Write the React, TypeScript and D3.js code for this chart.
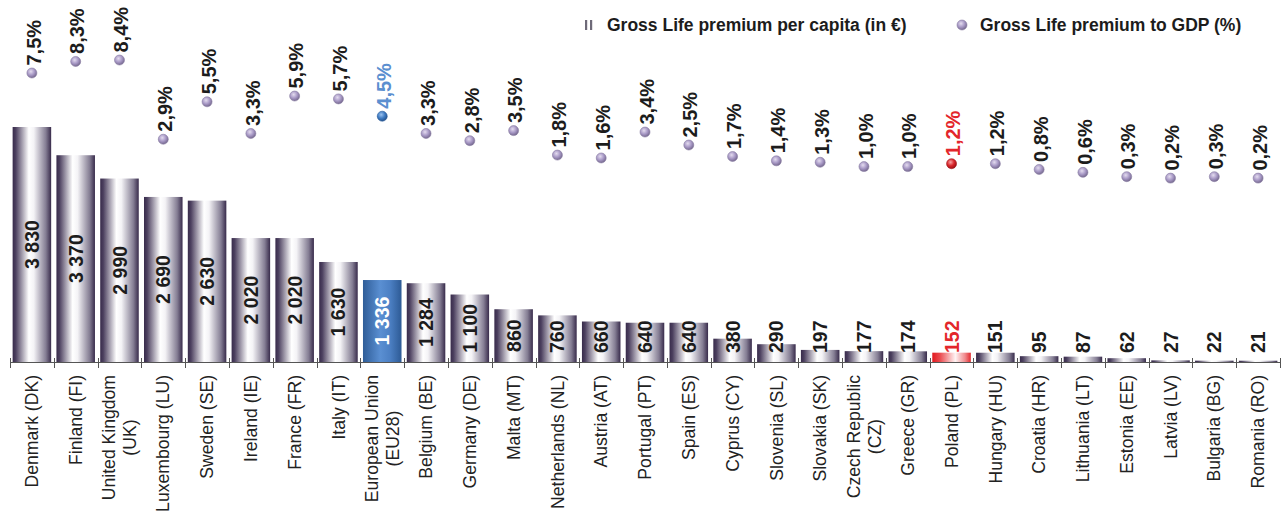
import React, { useRef, useEffect } from 'react';
import * as d3 from 'd3';

const categories = [
  'Denmark (DK)', 'Finland (FI)', 'United Kingdom\n(UK)', 'Luxembourg (LU)', 'Sweden (SE)',
  'Ireland (IE)', 'France (FR)', 'Italy (IT)', 'European Union\n(EU28)', 'Belgium (BE)',
  'Germany (DE)', 'Malta (MT)', 'Netherlands (NL)', 'Austria (AT)', 'Portugal (PT)',
  'Spain (ES)', 'Cyprus (CY)', 'Slovenia (SL)', 'Slovakia (SK)', 'Czech Republic\n(CZ)',
  'Greece (GR)', 'Poland (PL)', 'Hungary (HU)', 'Croatia (HR)', 'Lithuania (LT)',
  'Estonia (EE)', 'Latvia (LV)', 'Bulgaria (BG)', 'Romania (RO)',
];

// Gross Life premium per capita (in €)
const perCapita = [
  3830, 3370, 2990, 2690, 2630, 2020, 2020, 1630, 1336, 1284,
  1100, 860, 760, 660, 640, 640, 380, 290, 197, 177,
  174, 152, 151, 95, 87, 62, 27, 22, 21,
];

// Gross Life premium to GDP (%)
const toGdp = [
  7.5, 8.3, 8.4, 2.9, 5.5, 3.3, 5.9, 5.7, 4.5, 3.3,
  2.8, 3.5, 1.8, 1.6, 3.4, 2.5, 1.7, 1.4, 1.3, 1.0,
  1.0, 1.2, 1.2, 0.8, 0.6, 0.3, 0.2, 0.3, 0.2,
];

const legendLabels = ['Gross Life premium per capita (in €)', 'Gross Life premium to GDP (%)'];

const euCategory = 'European Union\n(EU28)';
const plCategory = 'Poland (PL)';

const FONT = '"Liberation Sans", Arial, Helvetica, sans-serif';

const App: React.FC = () => {
  const svgRef = useRef<SVGSVGElement>(null);

  useEffect(() => {
    if (!svgRef.current) return;
    const baseY = 362;

    const svg = d3.select(svgRef.current);
    svg.selectAll('*').remove();

    const locale = d3.formatLocale({ decimal: ',', thousands: ' ', grouping: [3], currency: ['', '€'] });
    const fmtInt = locale.format(',d');
    const fmtPct = (v: number) => locale.format('.1f')(v) + '%';

    // Gradients
    const defs = svg.append('defs');
    const barGrad = (id: string, stops: [number, string][]) => {
      const g = defs.append('linearGradient').attr('id', id)
        .attr('x1', '0%').attr('x2', '100%').attr('y1', '0%').attr('y2', '0%');
      stops.forEach(([o, c]) => g.append('stop').attr('offset', o).attr('stop-color', c));
    };
    barGrad('barGrey', [[0, '#382b4b'], [0.08, '#4c405f'], [0.42, '#ffffff'], [0.55, '#f4f3f6'], [0.86, '#857e94'], [1, '#382b4b']]);
    barGrad('barBlue', [[0, '#2f5d98'], [0.45, '#5a8fd2'], [0.7, '#4c80c4'], [1, '#2d5a95']]);
    barGrad('barRed', [[0, '#e2191f'], [0.2, '#ea4a4f'], [0.6, '#fff4f4'], [0.85, '#f08a8d'], [1, '#e2292e']]);

    const dotGrad = (id: string, light: string, mid: string, dark: string) => {
      const g = defs.append('radialGradient').attr('id', id)
        .attr('cx', '40%').attr('cy', '35%').attr('r', '65%');
      g.append('stop').attr('offset', 0).attr('stop-color', light);
      g.append('stop').attr('offset', 0.55).attr('stop-color', mid);
      g.append('stop').attr('offset', 1).attr('stop-color', dark);
    };
    dotGrad('dotGrey', '#e4dcef', '#a899c6', '#76698f');
    dotGrad('dotBlue', '#9cc2ee', '#3f7cc4', '#24528c');
    dotGrad('dotRed', '#f7a3a5', '#d9262b', '#9c1014');

    const x = d3.scaleBand<string>()
      .domain(categories)
      .range([10, 1280])
      .paddingInner(0.12)
      .paddingOuter(0.06);

    const y = d3.scaleLinear()
      .domain([0, 4000])
      .range([baseY, baseY - 4000 * 235 / 3830]);

    const yPct = d3.scaleLinear()
      .domain([0, 10])
      .range([181, 37]);

    const cx = (c: string) => (x(c) ?? 0) + x.bandwidth() / 2;
    const kind = (c: string) => (c === euCategory ? 'eu' : c === plCategory ? 'pl' : 'std');

    // Bars
    const bars = svg.append('g');
    categories.forEach((c, i) => {
      const k = kind(c);
      bars.append('rect')
        .attr('x', x(c)!)
        .attr('y', y(perCapita[i]))
        .attr('width', x.bandwidth())
        .attr('height', y(0) - y(perCapita[i]))
        .attr('fill', k === 'eu' ? 'url(#barBlue)' : k === 'pl' ? 'url(#barRed)' : 'url(#barGrey)');
    });

    // Axis line + ticks at band edges
    const axis = svg.append('g').attr('stroke', '#555').attr('stroke-width', 1);
    axis.append('line')
      .attr('x1', x.range()[0]).attr('x2', x.range()[1])
      .attr('y1', baseY + 0.5).attr('y2', baseY + 0.5);
    const edges = categories.map(c => x(c)! - (x.step() * x.paddingInner()) / 2);
    edges.push(x.range()[1]);
    edges.forEach(e => {
      axis.append('line')
        .attr('x1', Math.round(e) + 0.5).attr('x2', Math.round(e) + 0.5)
        .attr('y1', baseY - 4).attr('y2', baseY + 6);
    });

    // Bar value labels (rotated)
    const valueLayer = svg.append('g')
      .attr('font-family', FONT).attr('font-weight', 'bold').attr('font-size', 19.5);
    categories.forEach((c, i) => {
      const k = kind(c);
      const t = valueLayer.append('text')
        .attr('text-anchor', 'start')
        .attr('dy', '0.36em')
        .attr('fill', k === 'eu' ? '#ffffff' : k === 'pl' ? '#e3262b' : '#1c1c1c')
        .text(fmtInt(perCapita[i]));
      const len = (t.node() as SVGTextElement).getComputedTextLength();
      const mid = (y(perCapita[i]) + y(0)) / 2;
      const startY = Math.min(mid + len / 2, baseY - 9);
      t.attr('transform', `translate(${cx(c)},${startY}) rotate(-90)`);
    });

    // Dots + pct labels
    const dotLayer = svg.append('g');
    const pctLayer = svg.append('g')
      .attr('font-family', FONT).attr('font-weight', 'bold').attr('font-size', 20);
    categories.forEach((c, i) => {
      const k = kind(c);
      const py = yPct(toGdp[i]);
      dotLayer.append('circle')
        .attr('cx', cx(c))
        .attr('cy', py)
        .attr('r', 5)
        .attr('fill', k === 'eu' ? 'url(#dotBlue)' : k === 'pl' ? 'url(#dotRed)' : 'url(#dotGrey)')
        .attr('stroke', k === 'eu' ? '#2e5e9c' : k === 'pl' ? '#a01418' : '#8a7ea3')
        .attr('stroke-width', 0.6);
      pctLayer.append('text')
        .attr('transform', `translate(${cx(c) + 1.5},${py - 7.5}) rotate(-90)`)
        .attr('text-anchor', 'start')
        .attr('dy', '0.36em')
        .attr('fill', k === 'eu' ? '#5b8fd0' : k === 'pl' ? '#e3262b' : '#1c1c1c')
        .text(fmtPct(toGdp[i]));
    });

    // Category labels
    const catLayer = svg.append('g')
      .attr('font-family', FONT).attr('font-size', 17.6).attr('fill', '#222');
    const topY = baseY + 13;
    const lineGap = 21;
    categories.forEach(c => {
      const lines = c.split('\n');
      if (lines.length === 1) {
        catLayer.append('text')
          .attr('transform', `translate(${cx(c)},${topY}) rotate(-90)`)
          .attr('text-anchor', 'end')
          .attr('dy', '0.35em')
          .text(c);
      } else {
        const texts = lines.map(l => catLayer.append('text').attr('text-anchor', 'middle').attr('dy', '0.35em').text(l));
        const maxLen = d3.max(texts, t => (t.node() as SVGTextElement).getComputedTextLength()) ?? 0;
        texts.forEach((t, j) => {
          const off = (j - (lines.length - 1) / 2) * lineGap;
          t.attr('transform', `translate(${cx(c) + off},${topY + maxLen / 2}) rotate(-90)`);
        });
      }
    });

    // Legend
    const legend = svg.append('g')
      .attr('font-family', FONT).attr('font-weight', 'bold').attr('font-size', 17.5).attr('fill', '#1c1c1c');
    legend.append('rect').attr('x', 585).attr('y', 20).attr('width', 2.2).attr('height', 10).attr('fill', '#6e6a78');
    legend.append('rect').attr('x', 590).attr('y', 20).attr('width', 2.2).attr('height', 10).attr('fill', '#6e6a78');
    legend.append('text').attr('x', 607).attr('y', 31).text(legendLabels[0]);
    legend.append('circle').attr('cx', 962).attr('cy', 25).attr('r', 5)
      .attr('fill', 'url(#dotGrey)').attr('stroke', '#8a7ea3').attr('stroke-width', 0.6);
    legend.append('text').attr('x', 980).attr('y', 31).text(legendLabels[1]);
  }, []);

  return (
    <svg
      ref={svgRef}
      width={1284}
      height={512}
      style={{ position: 'absolute', left: 0, top: 0, background: '#ffffff' }}
    />
  );
};

export default App;
